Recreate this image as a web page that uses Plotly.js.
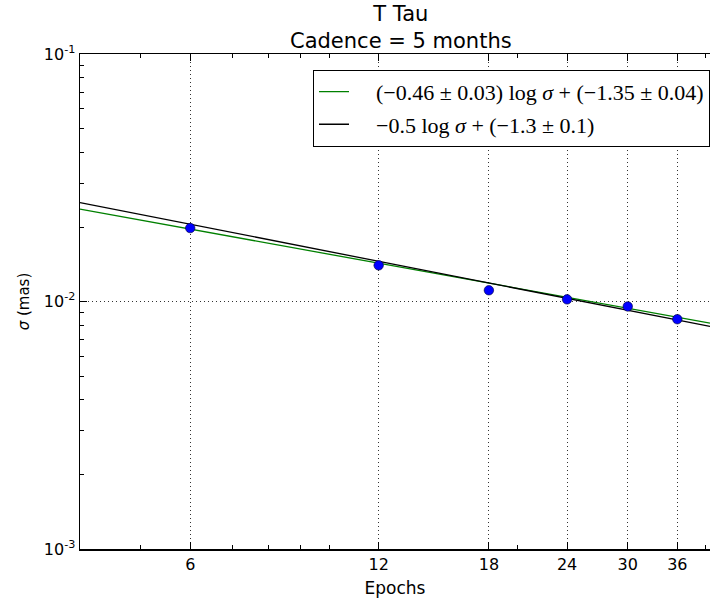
<!DOCTYPE html>
<html>
<head>
<meta charset="utf-8">
<script src="https://cdn.plot.ly/plotly-3.0.1.min.js"></script>
<style>html,body{margin:0;padding:0;background:#fff;}</style>
</head>
<body>
<div id="chart" style="width:710px;height:601px;"></div>
<script>
// Data
const epochs = [6, 12, 18, 24, 30, 36];
const sigma = [0.0198, 0.0140, 0.0111, 0.0102, 0.00955, 0.00848];
const fitX = [4, 40.6];
const fitGreen = [0.0236, 0.00818];
const fitBlack = [0.0251, 0.00793];
const xTicks = [6, 12, 18, 24, 30, 36];
const xMinor = [4, 5, 7, 8, 9, 10, 20, 30, 40];
const yTicks = [0.001, 0.01, 0.1];
const yTickText = ['10<sup>-3</sup>', '10<sup>-2</sup>', '10<sup>-1</sup>'];
const yMinor = [0.002,0.003,0.004,0.005,0.006,0.007,0.008,0.009,0.02,0.03,0.04,0.05,0.06,0.07,0.08,0.09];
const titleText = 'T Tau<br>Cadence = 5 months';
const greenLabel = '&nbsp;&nbsp;&nbsp;&nbsp;(−0.46 ± 0.03) log <i>σ</i> + (−1.35 ± 0.04)';
const blackLabel = '&nbsp;&nbsp;&nbsp;&nbsp;−0.5 log <i>σ</i> + (−1.3 ± 0.1)';

const traces = [
  {x: fitX, y: fitGreen, mode: 'lines', name: greenLabel, legendgroup: 'g',
   line: {color: '#008000', width: 1.3}},
  {x: fitX, y: fitBlack, mode: 'lines', name: blackLabel, legendgroup: 'b',
   line: {color: '#000000', width: 1.3}},
  {x: epochs, y: sigma, mode: 'markers', showlegend: false,
   marker: {color: '#0000ff', size: 9.5, line: {color: '#000033', width: 0.6}}}
];

const gridDash = '1px,3px';
const layout = {
  width: 710, height: 601,
  margin: {l: 80, r: 0, t: 54, b: 52},
  paper_bgcolor: '#fff', plot_bgcolor: '#fff',
  font: {family: 'DejaVu Sans', size: 15, color: '#000'},
  annotations: [{text: titleText, xref: 'paper', yref: 'paper', x: 0.51, y: 1,
                 xanchor: 'center', yanchor: 'bottom', yshift: -1, showarrow: false,
                 font: {family: 'DejaVu Sans', size: 21, color: '#000'}}],
  xaxis: {type: 'log', range: [Math.log10(4), Math.log10(40.6)],
          tickmode: 'array', tickvals: xTicks, ticktext: xTicks.map(String),
          ticks: 'inside', ticklen: 7, tickwidth: 1, tickcolor: '#000',
          showline: true, linecolor: '#000', linewidth: 1.5, mirror: 'ticks',
          showgrid: true, gridcolor: '#333', griddash: gridDash, gridwidth: 1,
          zeroline: false, tickfont: {size: 16},
          minor: {tickmode: 'array', tickvals: xMinor, ticks: 'inside', ticklen: 4, tickcolor: '#000', showgrid: false},
          title: {text: 'Epochs', font: {size: 17}, standoff: 9}},
  yaxis: {type: 'log', range: [-3, -1],
          tickmode: 'array', tickvals: yTicks, ticktext: yTickText,
          ticks: 'inside', ticklen: 7, tickwidth: 1, tickcolor: '#000',
          showline: true, linecolor: '#000', linewidth: 1.5, mirror: false,
          showgrid: true, gridcolor: '#333', griddash: gridDash, gridwidth: 1,
          zeroline: false, tickfont: {size: 16},
          minor: {tickmode: 'array', tickvals: yMinor, ticks: 'inside', ticklen: 4, tickcolor: '#000', showgrid: false},
          title: {text: '<i>σ</i> (mas)', font: {size: 15}, standoff: 10}},
  legend: {x: 1, xanchor: 'right', y: 0.968, yanchor: 'top',
           bgcolor: '#fff', bordercolor: '#000', borderwidth: 1,
           font: {family: 'Liberation Serif', size: 22, color: '#000'},
           tracegroupgap: 1, itemwidth: 30}
};

Plotly.newPlot('chart', traces, layout, {displayModeBar: false, staticPlot: true});
</script>
</body>
</html>
